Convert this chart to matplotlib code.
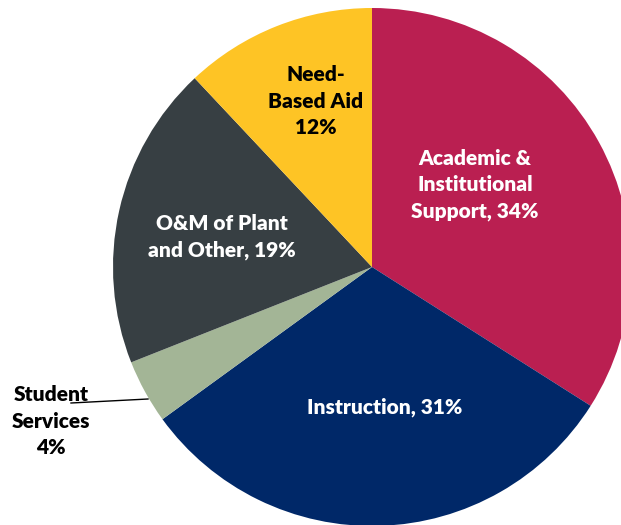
import matplotlib.pyplot as plt

categories = ["Academic &\nInstitutional\nSupport, 34%", "Instruction, 31%", "Student\nServices\n4%",
              "O&M of Plant\nand Other, 19%", "Need-\nBased Aid\n12%"]
shares = [34, 31, 4, 19, 12]
colors = ["#BA1F51", "#002868", "#A3B596", "#373F43", "#FEC425"]
text_colors = ["white", "white", "black", "white", "black"]

W, H = 621, 525
fig = plt.figure(figsize=(W / 100, H / 100), dpi=100)
ax = fig.add_axes([0, 0, 1, 1])

cx, cy, r = 372, H - 267, 259
ax.pie(shares, colors=colors, startangle=90, counterclock=False,
       center=(cx, cy), radius=r, frame=True,
       wedgeprops=dict(linewidth=0))
ax.set_xlim(0, W)
ax.set_ylim(0, H)
ax.set_aspect("equal")
ax.axis("off")

# label positions in pixel coords (x, y from top)
pos = [(475, 185), (385, 407), (51, 421), (222, 237), (316, 101)]
for lab, (x, y), tc in zip(categories, pos, text_colors):
    ax.text(x, H - y, lab, ha="center", va="center", color=tc,
            fontsize=15, fontweight="heavy", family="Lato", linespacing=1.45)

# leader line for small slice
ax.plot([71, 148], [H - 403, H - 399], color="black", lw=1)

fig.savefig("out.png", dpi=100)
